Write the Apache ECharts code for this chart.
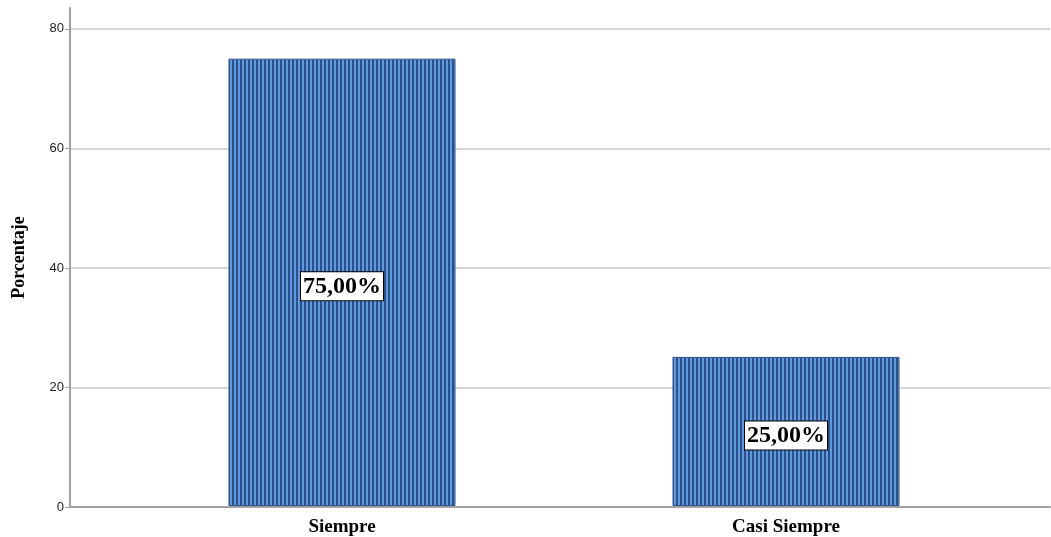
<!DOCTYPE html>
<html>
<head>
<meta charset="utf-8">
<script src="https://cdn.jsdelivr.net/npm/echarts@6/dist/echarts.min.js"></script>
<style>
html, body { margin: 0; padding: 0; background: #fff; }
#chart { width: 1051px; height: 537px; }
</style>
</head>
<body>
<div id="chart"></div>
<script>
// datos del grafico
const categorias = ['Siempre', 'Casi Siempre'];
const porcentajes = [75, 25];
const etiquetas = ['75,00%', '25,00%'];

// rayas verticales como en SPSS
function rayas()
{
	const c = document.createElement('canvas');
	c.width = 4;
	c.height = 4;
	const ctx = c.getContext('2d');
	ctx.fillStyle = '#5e9be0';
	ctx.fillRect(0, 0, 4, 4);
	ctx.fillStyle = '#2d5088';
	ctx.fillRect(0, 0, 2, 4);
	return c;
}

const yMax = 83.5;
const chart = echarts.init(document.getElementById('chart'));

chart.setOption({
	animation: false,
	grid: [
		{ left: 70, right: 1, top: 8, bottom: 30 },
		{ left: 120, right: 43, top: 8, bottom: 30 }
	],
	xAxis: [
		{
			gridIndex: 0,
			type: 'category',
			data: [''],
			axisLine: { lineStyle: { color: '#a0a0a0', width: 2 } },
			axisTick: { show: false },
			axisLabel: { show: false }
		},
		{
			gridIndex: 1,
			type: 'category',
			data: categorias,
			axisLine: { show: false },
			axisTick: { show: false },
			axisLabel: {
				margin: 12,
				color: '#000',
				fontFamily: 'Liberation Serif',
				fontWeight: 'bold',
				fontSize: 19
			}
		}
	],
	yAxis: [
		{
			gridIndex: 0,
			type: 'value',
			min: 0,
			max: yMax,
			interval: 20,
			name: 'Porcentaje',
			nameLocation: 'middle',
			nameGap: 42,
			nameTextStyle: {
				color: '#000',
				fontFamily: 'Liberation Serif',
				fontWeight: 'bold',
				fontSize: 18
			},
			axisLine: { show: true, lineStyle: { color: '#a0a0a0', width: 2 } },
			axisTick: { show: true, length: 5, lineStyle: { color: '#a0a0a0' } },
			axisLabel: {
				color: '#222',
				fontFamily: 'Liberation Sans',
				fontSize: 13,
				margin: 6,
				showMaxLabel: false,
				formatter: function (v) { return v % 20 === 0 ? v : ''; }
			},
			splitLine: { showMaxLine: false, lineStyle: { color: '#d4d4d4', width: 2 } }
		},
		{
			gridIndex: 1,
			type: 'value',
			min: 0,
			max: yMax,
			show: false,
			splitLine: { show: false }
		}
	],
	series: [
		{
			type: 'bar',
			xAxisIndex: 1,
			yAxisIndex: 1,
			data: porcentajes,
			barWidth: 227,
			itemStyle: {
				color: { image: rayas(), repeat: 'repeat' },
				borderColor: '#2d5088',
				borderWidth: 1
			},
			label: {
				show: true,
				position: 'inside',
				offset: [0, 4],
				formatter: function (p) { return etiquetas[p.dataIndex]; },
				color: '#000',
				fontFamily: 'Liberation Serif',
				fontWeight: 'bold',
				fontSize: 24,
				backgroundColor: '#fff',
				borderColor: '#000',
				borderWidth: 1,
				padding: [3, 2, 1, 2]
			}
		}
	]
});
</script>
</body>
</html>
